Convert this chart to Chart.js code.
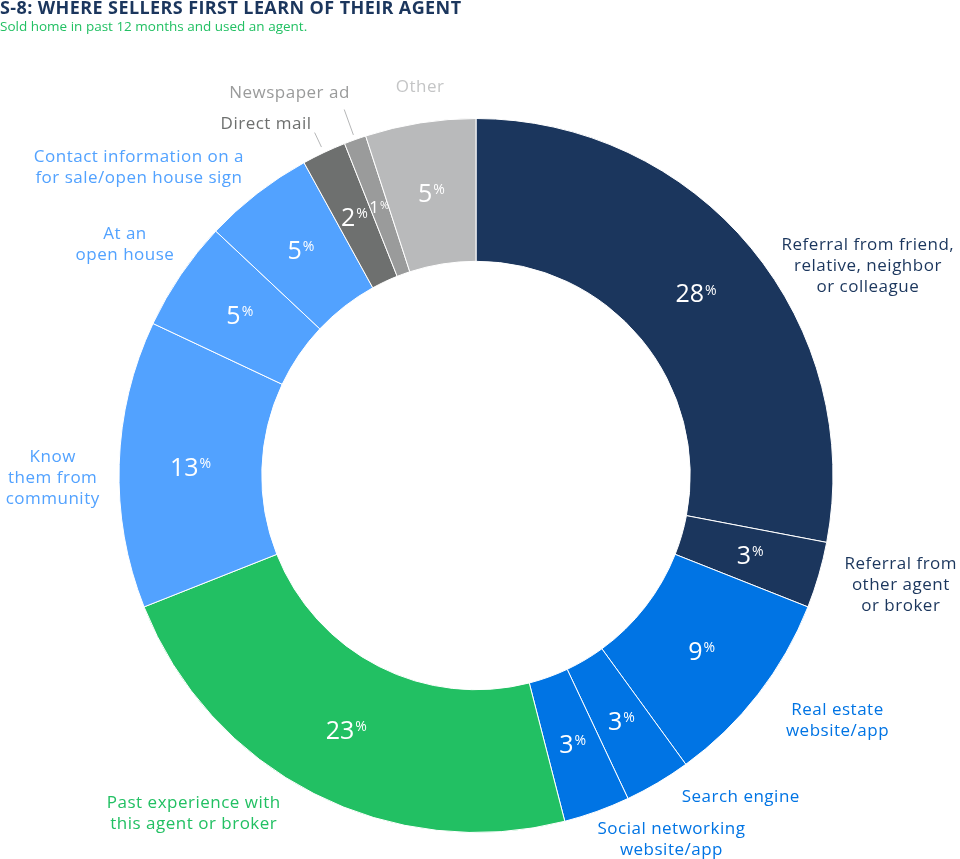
<!DOCTYPE html>
<html><head><meta charset="utf-8">
<script src="https://cdn.jsdelivr.net/npm/chart.js@4.4.0/dist/chart.umd.min.js"></script>
<style>
html,body{margin:0;padding:0;background:#fff;}
#wrap{position:relative;width:960px;height:859px;overflow:hidden;}
#c{position:absolute;left:0;top:0;}
#title{position:absolute;left:0;top:-5px;font:700 18px 'Open Sans',sans-serif;letter-spacing:0.4px;color:#1b365d;white-space:nowrap;}
#sub{position:absolute;left:0;top:17px;font:400 13.5px 'Open Sans',sans-serif;color:#22c063;white-space:nowrap;}
</style></head>
<body>
<div id="wrap">
<canvas id="c" width="960" height="859"></canvas>
<div id="title">S-8: WHERE SELLERS FIRST LEARN OF THEIR AGENT</div>
<div id="sub">Sold home in past 12 months and used an agent.</div>
</div>
<script>
// ---- data ----
const categories = [
  "Referral from friend, relative, neighbor or colleague",
  "Referral from other agent or broker",
  "Real estate website/app",
  "Search engine",
  "Social networking website/app",
  "Past experience with this agent or broker",
  "Know them from community",
  "At an open house",
  "Contact information on a for sale/open house sign",
  "Direct mail",
  "Newspaper ad",
  "Other"
];
const shares = [28, 3, 9, 3, 3, 23, 13, 5, 5, 2, 1, 5];
const labelLines = [
  ["Referral from friend,", "relative, neighbor", "or colleague"],
  ["Referral from", "other agent", "or broker"],
  ["Real estate", "website/app"],
  ["Search engine"],
  ["Social networking", "website/app"],
  ["Past experience with", "this agent or broker"],
  ["Know", "them from", "community"],
  ["At an", "open house"],
  ["Contact information on a", "for sale/open house sign"],
  ["Direct mail"],
  ["Newspaper ad"],
  ["Other"]
];

// ---- styles ----
const NAVY = "#1b365d", BLUE = "#0074e4", LBLUE = "#52a2ff", GREEN = "#22c063";
const sliceColors = [NAVY, NAVY, BLUE, BLUE, BLUE, GREEN, LBLUE, LBLUE, LBLUE, "#6e706f", "#9a9b9b", "#b9babb"];
const textColors = [NAVY, NAVY, BLUE, BLUE, BLUE, GREEN, LBLUE, LBLUE, LBLUE, "#6e706f", "#9a9b9b", "#c4c5c6"];
// label placement relative to chart centre (px at reference radius 358)
const labelPlacement = [
  [393, -209.5], [426, 110], [362.5, 246], [265.5, 322.5], [196, 365],
  [-283, 339], [-424.5, 2.5], [-352, -231.5], [-338, -309],
  [-210.5, -352.5], [-187, -383.5], [-56, -389.5]
];
const leaderSlices = {9: [6, 22], 10: [5, 32]};
const FONT = "'Open Sans', sans-serif";

const labelPlugin = {
  id: 'sliceLabels',
  afterDatasetsDraw(chart) {
    const ctx = chart.ctx;
    const meta = chart.getDatasetMeta(0);
    ctx.save();
    meta.data.forEach((arc, i) => {
      const p = arc.getProps(['x', 'y', 'startAngle', 'endAngle', 'innerRadius', 'outerRadius'], true);
      const mid = (p.startAngle + p.endAngle) / 2;
      const r = (p.innerRadius + p.outerRadius) / 2;
      const px = p.x + Math.cos(mid) * r, py = p.y + Math.sin(mid) * r;
      // percent value
      const small = shares[i] < 2;
      const numSize = small ? 17 : 25;
      const pctSize = small ? 11 : 14;
      const numText = String(shares[i]);
      ctx.letterSpacing = '0px';
      ctx.fillStyle = '#ffffff';
      ctx.textBaseline = 'alphabetic';
      ctx.textAlign = 'left';
      ctx.font = `500 ${numSize}px ${FONT}`;
      const w1 = ctx.measureText(numText).width;
      ctx.font = `500 ${pctSize}px ${FONT}`;
      const w2 = ctx.measureText('%').width;
      const total = w1 + w2 + 1;
      const cap = numSize * 0.72;
      const base = py + cap / 2;
      ctx.font = `500 ${numSize}px ${FONT}`;
      ctx.fillText(numText, px - total / 2, base);
      ctx.font = `500 ${pctSize}px ${FONT}`;
      ctx.fillText('%', px - total / 2 + w1 + 1, base - cap + pctSize * 0.72);

      // outside label
      const scale = p.outerRadius / 358;
      const [dx, dy] = labelPlacement[i];
      const lx = p.x + dx * scale, ly = p.y + dy * scale;
      const lines = labelLines[i];
      const lh = 21;
      ctx.font = `500 17px ${FONT}`;
      ctx.letterSpacing = '0.5px';
      ctx.fillStyle = textColors[i];
      ctx.textAlign = 'center';
      ctx.textBaseline = 'middle';
      lines.forEach((t, k) => {
        ctx.fillText(t, lx, ly + (k - (lines.length - 1) / 2) * lh);
      });
      ctx.letterSpacing = '0px';
      // leader lines
      if (leaderSlices[i]) {
        const [a, b] = leaderSlices[i];
        ctx.strokeStyle = '#b5b6b7';
        ctx.lineWidth = 1;
        ctx.beginPath();
        ctx.moveTo(p.x + Math.cos(mid) * (p.outerRadius + a), p.y + Math.sin(mid) * (p.outerRadius + a));
        ctx.lineTo(p.x + Math.cos(mid) * (p.outerRadius + b), p.y + Math.sin(mid) * (p.outerRadius + b));
        ctx.stroke();
      }
    });
    ctx.restore();
  }
};

new Chart(document.getElementById('c'), {
  type: 'doughnut',
  data: {
    labels: categories,
    datasets: [{
      data: shares,
      backgroundColor: sliceColors,
      borderColor: '#ffffff',
      borderWidth: 1,
      hoverOffset: 0
    }]
  },
  options: {
    responsive: false,
    animation: false,
    cutout: '60%',
    layout: { padding: { left: 118, right: 126, top: 118, bottom: 26 } },
    plugins: { legend: { display: false }, tooltip: { enabled: false }, title: { display: false } }
  },
  plugins: [labelPlugin]
});
</script>
</body></html>
